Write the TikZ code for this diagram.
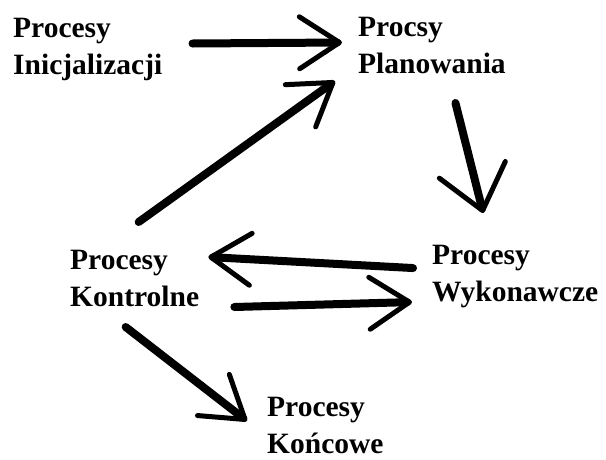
\documentclass[tikz,border=0pt]{standalone}
\usepackage{fontspec}
\setmainfont{Liberation Serif}
\usetikzlibrary{arrows.meta}

\begin{document}
\begin{tikzpicture}[x=1pt, y=1pt,
 proc/.style={anchor=north west, inner sep=0pt, align=left, font=\fontsize{29.5}{37}\selectfont\bfseries},
 hand/.style={line width=8pt, line cap=round, -{Straight Barb[length=40pt, width=52pt, line width=5pt, round]}},
]
\useasboundingbox (0,0) rectangle (606,-459);

%labels
\node[proc] (init) at (13,-18) {Procesy\\Inicjalizacji};
\node[proc] (plan) at (358,-17) {Procsy\\Planowania};
\node[proc] (ctrl) at (70,-250) {Procesy\\Kontrolne};
\node[proc] (exec) at (432,-245) {Procesy\\Wykonawcze};
\node[proc] (close) at (267,-397) {Procesy\\Końcowe};

%arrows
\draw[hand] ([shift={(30,6)}]init.east) -- ([shift={(-16,3)}]plan.west);
\draw[hand] ([shift={(4,28)}]ctrl.north) -- ([shift={(-23,-7)}]plan.south west);
\draw[hand, -{Straight Barb[length=42pt, width=68pt, line width=5pt, round]}]
 ([shift={(23.5,-29)}]plan.south) -- ([shift={(-32,32)}]exec.north);
\draw[hand] ([shift={(-19,8.5)}]exec.west) -- ([shift={(9,21.5)}]ctrl.east);
\draw[hand] ([shift={(35,-28.5)}]ctrl.east) -- ([shift={(-20,-25.5)}]exec.west);
\draw[hand] ([shift={(-9,-20)}]ctrl.south) -- ([shift={(-20,4.5)}]close.west);

\end{tikzpicture}
\end{document}
